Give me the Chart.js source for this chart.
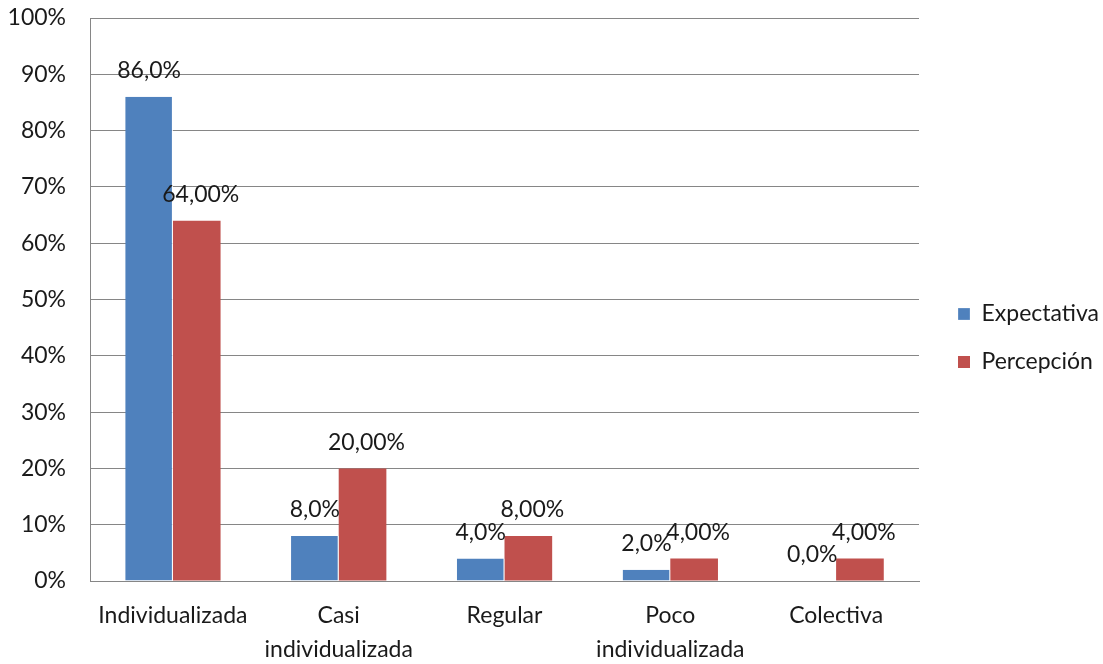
<!DOCTYPE html>
<html>
<head>
<meta charset="utf-8">
<script src="https://cdn.jsdelivr.net/npm/chart.js@4.4.0/dist/chart.umd.min.js"></script>
<style>
  html, body { margin: 0; padding: 0; background: #fff; }
  #wrap { width: 1103px; height: 664px; position: relative; }
</style>
</head>
<body>
<div id="wrap"><canvas id="bar-chart-grouped"></canvas></div>
<script>
// data
var categories = [["Individualizada"], ["Casi", "individualizada"], ["Regular"], ["Poco", "individualizada"], ["Colectiva"]];
var expectativa = [86, 8, 4, 2, 0];
var percepcion = [64, 20, 8, 4, 4];
var yTicks = [0, 10, 20, 30, 40, 50, 60, 70, 80, 90, 100];

var fontFamily = "Lato, 'Open Sans', sans-serif";

// value labels above each bar, Excel style ("86,0%" / "64,00%")
var barLabels = {
    id: 'barLabels',
    afterDatasetsDraw: function(chart) {
        var ctx = chart.ctx;
        ctx.save();
        ctx.font = '23px ' + fontFamily;
        ctx.fillStyle = '#1a1a1a';
        ctx.textAlign = 'center';
        ctx.textBaseline = 'middle';
        chart.data.datasets.forEach(function(ds, i) {
            var meta = chart.getDatasetMeta(i);
            meta.data.forEach(function(bar, j) {
                var txt = ds.data[j].toFixed(ds.decimals).replace('.', ',') + '%';
                ctx.fillText(txt, bar.x + (i === 1 ? 4 : 0), bar.y - 26);
            });
        });
        ctx.restore();
    }
};

// nudge the legend block to where Excel put it
var legendShift = {
    id: 'legendShift',
    afterLayout: function(chart) {
        var lg = chart.legend;
        lg.left += 14; lg.right += 14;
        lg.top -= 3; lg.bottom -= 3;
    }
};

new Chart(document.getElementById("bar-chart-grouped"), {
    type: 'bar',
    data: {
        labels: categories,
        datasets: [
            {
                label: "Expectativa",
                backgroundColor: "#4F81BD",
                borderColor: "#ffffff",
                borderWidth: { left: 0, right: 1, top: 0, bottom: 0 },
                decimals: 1,
                data: expectativa
            }, {
                label: "Percepción",
                backgroundColor: "#C0504D",
                borderColor: "#ffffff",
                borderWidth: 0,
                decimals: 2,
                data: percepcion
            }
        ]
    },
    options: {
        responsive: true,
        maintainAspectRatio: false,
        animation: false,
        categoryPercentage: 0.575,
        barPercentage: 1.0,
        layout: { padding: { top: 18, left: 0, right: 8, bottom: 0 } },
        plugins: {
            tooltip: { enabled: false },
            legend: {
                position: 'right',
                labels: {
                    color: '#1a1a1a',
                    font: { family: fontFamily, size: 23 },
                    boxWidth: 12,
                    boxHeight: 12,
                    padding: 25
                }
            }
        },
        scales: {
            x: {
                grid: { display: false, drawTicks: false },
                border: { color: '#868686', width: 1 },
                afterFit: function(axis) { axis.height = 83; },
                ticks: {
                    color: '#1a1a1a',
                    font: { family: fontFamily, size: 23, lineHeight: 1.48 },
                    padding: 18,
                    maxRotation: 0
                }
            },
            y: {
                min: 0,
                max: 100,
                afterBuildTicks: function(axis) {
                    axis.ticks = yTicks.map(function(v) { return { value: v }; });
                },
                afterFit: function(axis) {
                    axis.width = 90;
                    axis.paddingTop = 0;
                    axis.paddingBottom = 0;
                },
                grid: { color: '#868686', lineWidth: 1, drawTicks: false },
                border: { color: '#868686', width: 1 },
                ticks: {
                    color: '#1a1a1a',
                    font: { family: fontFamily, size: 23 },
                    padding: 24,
                    callback: function(v) { return v + '%'; }
                }
            }
        }
    },
    plugins: [barLabels, legendShift]
});
</script>
</body>
</html>
